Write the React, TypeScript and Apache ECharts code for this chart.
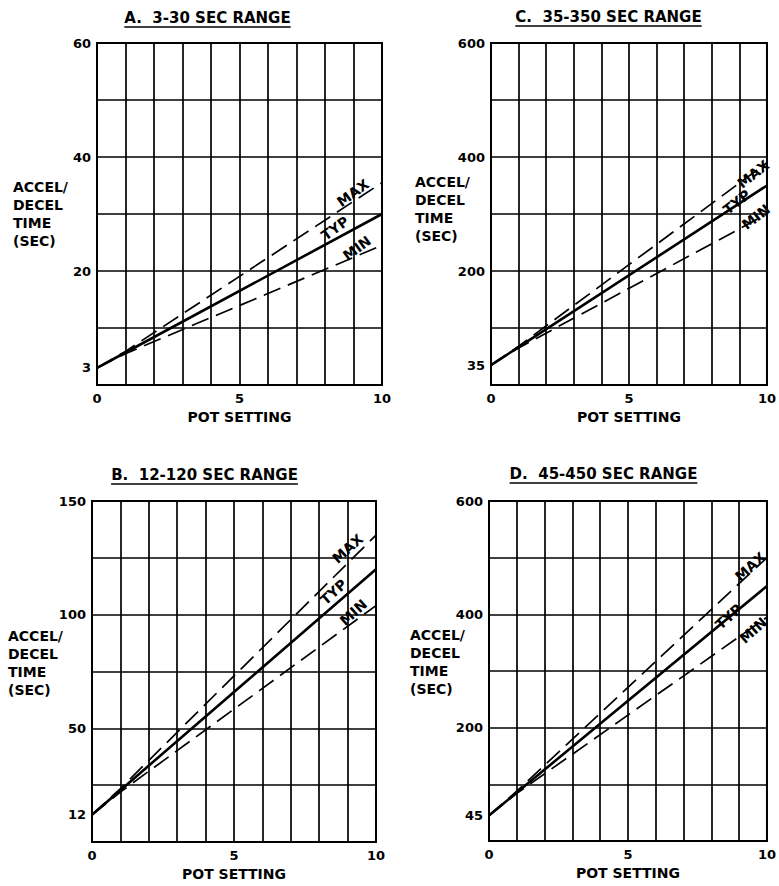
import React, { useEffect, useRef } from 'react';
import * as echarts from 'echarts';

// ---------- data ----------
const potSetting = [0, 1, 10];
const xTickLabels = [0, 5, 10];

const titleA = 'A.  3-30 SEC RANGE';
const titleB = 'B.  12-120 SEC RANGE';
const titleC = 'C.  35-350 SEC RANGE';
const titleD = 'D.  45-450 SEC RANGE';

const yMaxA = 60, yStepA = 10, yTicksA = [3, 20, 40, 60];
const yMaxB = 150, yStepB = 25, yTicksB = [12, 50, 100, 150];
const yMaxC = 600, yStepC = 100, yTicksC = [35, 200, 400, 600];
const yMaxD = 600, yStepD = 100, yTicksD = [45, 200, 400, 600];

const typA = [3, 5.7, 30];
const maxA = [3, 5.9, 35.5];
const minA = [3, 5.5, 24.5];

const typB = [12, 22.8, 120];
const maxB = [12, 23.5, 135];
const minB = [12, 22, 104];

const typC = [35, 66.5, 350];
const maxC = [35, 68, 390];
const minC = [35, 65, 300];

const typD = [45, 85.5, 450];
const maxD = [45, 88, 500];
const minD = [45, 84, 395];

// label anchors [pot, seconds] for MAX / TYP / MIN
const lblA = [[8.98, 33.7], [8.35, 27.5], [9.12, 24.0]];
const lblB = [[9.0, 129], [8.5, 110], [9.2, 101]];
const lblC = [[9.5, 370], [8.9, 321], [9.6, 295]];
const lblD = [[9.4, 484], [8.62, 396], [9.5, 372]];

const curveNames = ['MAX', 'TYP', 'MIN'];
const xName = 'POT SETTING';
const yNameLines = ['ACCEL/', 'DECEL', 'TIME', '(SEC)'];

// ---------- layout ----------
const FONT = '"DejaVu Sans", "Liberation Sans", sans-serif';
const panels = [
  { title: titleA, yMax: yMaxA, yStep: yStepA, yTicks: yTicksA, curves: [maxA, typA, minA], lbl: lblA,
    grid: { left: 97, top: 43, width: 285, height: 342 }, nameGap: 84, nameLift: 0, rot: 36, tpos: [207.5, 18] },
  { title: titleC, yMax: yMaxC, yStep: yStepC, yTicks: yTicksC, curves: [maxC, typC, minC], lbl: lblC,
    grid: { left: 491, top: 43, width: 286, height: 342 }, nameGap: 76, nameLift: 5, rot: 38, tpos: [608.5, 17] },
  { title: titleB, yMax: yMaxB, yStep: yStepB, yTicks: yTicksB, curves: [maxB, typB, minB], lbl: lblB,
    grid: { left: 92, top: 501, width: 284, height: 341 }, nameGap: 84, nameLift: 9, rot: 42, tpos: [204.5, 475] },
  { title: titleD, yMax: yMaxD, yStep: yStepD, yTicks: yTicksD, curves: [maxD, typD, minD], lbl: lblD,
    grid: { left: 489, top: 501, width: 288, height: 340 }, nameGap: 79, nameLift: 9, rot: 42, tpos: [603.5, 474] },
];

function measure(text: string, font: string): number {
  const ctx = document.createElement('canvas').getContext('2d');
  if (!ctx) return text.length * 9;
  ctx.font = font;
  return ctx.measureText(text).width;
}

export default function App() {
  const ref = useRef<HTMLDivElement>(null);
  useEffect(() => {
    if (!ref.current) return;
    const chart = echarts.init(ref.current, null, { renderer: 'svg' });

    const grids: any[] = [];
    const xAxes: any[] = [];
    const yAxes: any[] = [];
    const series: any[] = [];
    const graphics: any[] = [];

    panels.forEach((p, i) => {
      grids.push({
        ...p.grid,
        show: true,
        borderColor: '#000',
        borderWidth: 2,
        backgroundColor: 'transparent',
      });
      xAxes.push({
        gridIndex: i,
        type: 'value',
        min: 0,
        max: 10,
        interval: 1,
        axisLine: { show: true, lineStyle: { color: '#000', width: 2 } },
        axisTick: { show: false },
        splitLine: { show: true, lineStyle: { color: '#000', width: 1.7 } },
        axisLabel: {
          customValues: xTickLabels,
          color: '#000',
          fontFamily: FONT,
          fontWeight: 'bold',
          fontSize: 13,
          margin: 7,
        },
        name: xName,
        nameLocation: 'middle',
        nameGap: 25,
        nameMoveOverlap: false,
        nameTextStyle: { color: '#000', fontFamily: FONT, fontWeight: 'bold', fontSize: 14 },
      });
      const nameText = yNameLines.map((l) => `{t|${l}}`).join('\n') + (p.nameLift > 0 ? '\n{s| }' : '');
      yAxes.push({
        gridIndex: i,
        type: 'value',
        min: 0,
        max: p.yMax,
        interval: p.yStep,
        axisLine: { show: true, lineStyle: { color: '#000', width: 2 } },
        axisTick: { show: false },
        splitLine: { show: true, lineStyle: { color: '#000', width: 1.7 } },
        axisLabel: {
          customValues: p.yTicks,
          color: '#000',
          fontFamily: FONT,
          fontWeight: 'bold',
          fontSize: 13,
          margin: 6,
        },
        name: nameText,
        nameLocation: 'middle',
        nameRotate: 0,
        nameGap: p.nameGap,
        nameMoveOverlap: false,
        nameTextStyle: {
          color: '#000',
          fontFamily: FONT,
          fontWeight: 'bold',
          fontSize: 14,
          lineHeight: 18,
          align: 'left',
          verticalAlign: 'middle',
          rich: {
            t: { color: '#000', fontFamily: FONT, fontWeight: 'bold', fontSize: 14, lineHeight: 18 },
            s: { fontSize: 1, lineHeight: Math.max(1, p.nameLift * 2) },
          },
        },
      });
      p.curves.forEach((vals, k) => {
        series.push({
          type: 'line',
          name: curveNames[k] + i,
          xAxisIndex: i,
          yAxisIndex: i,
          data: potSetting.map((x, j) => [x, vals[j]]),
          showSymbol: false,
          silent: true,
          lineStyle: k === 1
            ? { color: '#000', width: 2.6, type: 'solid' }
            : { color: '#000', width: 1.7, type: [18, 8] },
          markPoint: {
            symbol: 'circle',
            symbolSize: 0,
            silent: true,
            itemStyle: { color: 'transparent' },
            label: {
              show: true,
              position: 'inside',
              formatter: curveNames[k],
              rotate: p.rot,
              color: '#000',
              fontFamily: FONT,
              fontWeight: 'bold',
              fontSize: 14,
            },
            data: [{ coord: p.lbl[k] }],
          },
        });
      });

      const tFont = `bold 15px "DejaVu Sans"`;
      const w = measure(p.title, tFont);
      graphics.push({
        type: 'text',
        x: p.tpos[0],
        y: p.tpos[1],
        silent: true,
        style: {
          text: p.title,
          align: 'center',
          verticalAlign: 'middle',
          fill: '#000',
          font: `bold 15px ${FONT}`,
        },
      });
      graphics.push({
        type: 'line',
        silent: true,
        shape: { x1: p.tpos[0] - w / 2, y1: p.tpos[1] + 9, x2: p.tpos[0] + w / 2, y2: p.tpos[1] + 9 },
        style: { stroke: '#000', lineWidth: 1.6 },
      });
    });

    chart.setOption({
      animation: false,
      backgroundColor: '#fff',
      grid: grids,
      xAxis: xAxes,
      yAxis: yAxes,
      series,
      graphic: graphics,
    });
    return () => chart.dispose();
  }, []);

  return (
    <div
      ref={ref}
      style={{ position: 'absolute', left: 0, top: 0, width: 779, height: 886, background: '#fff' }}
    />
  );
}
